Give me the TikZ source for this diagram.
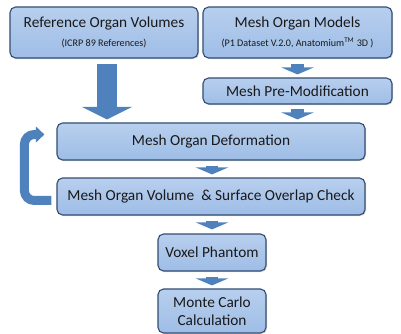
\documentclass[tikz,border=0pt]{standalone}
\usepackage{fontspec}
\setmainfont{Carlito}
\usetikzlibrary{calc,arrows.meta,shadows}
\definecolor{boxtop}{RGB}{184,207,238}
\definecolor{boxbot}{RGB}{158,189,230}
\definecolor{boxline}{RGB}{52,78,115}
\definecolor{arrblue}{RGB}{79,129,189}
\newcommand{\subline}[1]{{\fontsize{7.2}{8.5}\selectfont #1}}
\tikzset{
  stepbox/.style={draw=boxline,line width=0.8pt,rounded corners=4pt,
    top color=boxtop,bottom color=boxbot,text=black!90,
    font=\fontsize{10.9}{13}\selectfont,align=center,inner sep=1pt,
    drop shadow={opacity=0.3,shadow xshift=0.8pt,shadow yshift=-0.8pt}},
  smallarr/.style={draw=arrblue,line width=9.2pt,
    -{Triangle[width=23pt,length=5pt,fill=arrblue]}},
  bigarr/.style={draw=arrblue,line width=14pt,
    -{Triangle[width=35.5pt,length=9pt,fill=arrblue]}},
  looparr/.style={draw=arrblue,line width=6.4pt,rounded corners=7pt,
    -{Triangle[width=11pt,length=6pt,fill=arrblue]}}
}
\begin{document}
\begin{tikzpicture}[x=0.025cm,y=-0.025cm]
  \useasboundingbox (0,0) rectangle (401,334);
  % input boxes
  \node[stepbox,minimum width=4.7cm,minimum height=1.275cm] (ref) at (104,32.5)
    {Reference Organ Volumes\\\subline{(ICRP 89 References)}};
  \node[stepbox,minimum width=4.725cm,minimum height=1.275cm] (models) at (297.5,32.5)
    {Mesh Organ Models\\\subline{(P1 Dataset V.2.0, Anatomium\textsuperscript{TM} 3D )}};
  \node[stepbox,minimum width=4.725cm,minimum height=0.65cm] (premod) at (297.5,91)
    {Mesh Pre-Modification};
  % deformation loop
  \node[stepbox,minimum width=7.7cm,minimum height=0.925cm] (deform) at (211,141.5)
    {Mesh Organ Deformation};
  \node[stepbox,minimum width=7.7cm,minimum height=0.925cm] (volume) at (211,196.5)
    {Mesh Organ Volume \ \& Surface Overlap Check};
  % output
  \node[stepbox,minimum width=2.7cm,minimum height=0.925cm] (voxel) at (212,252.5)
    {Voxel Phantom};
  \node[stepbox,minimum width=2.7cm,minimum height=1.1cm] (monte) at (212,311)
    {Monte Carlo\\Calculation};
  % arrows
  \draw[bigarr] ($(ref.south)+(3,5)$) -- ($(ref.south |- deform.north)+(3,-3)$);
  \draw[smallarr] ($(models.south)+(0,5)$) -- ($(premod.north)+(0,-3)$);
  \draw[smallarr] ($(premod.south)+(0,4)$) -- ($(premod.south |- deform.north)+(0,-3)$);
  \draw[smallarr] ($(deform.south)+(1,5)$) -- ($(volume.north)+(1,-3)$);
  \draw[smallarr] ($(volume.south)+(1,5)$) -- ($(voxel.north)+(0,-4)$);
  \draw[smallarr] ($(voxel.south)+(0,5)$) -- ($(monte.north)+(0,-3)$);
  \coordinate (loopend) at ($(deform.west)+(-12,-7)$);
  \draw[looparr] ($(volume.west)+(-5,4)$) -| ($(deform.west)+(-32,-7)$) -- (loopend);
\end{tikzpicture}
\end{document}
